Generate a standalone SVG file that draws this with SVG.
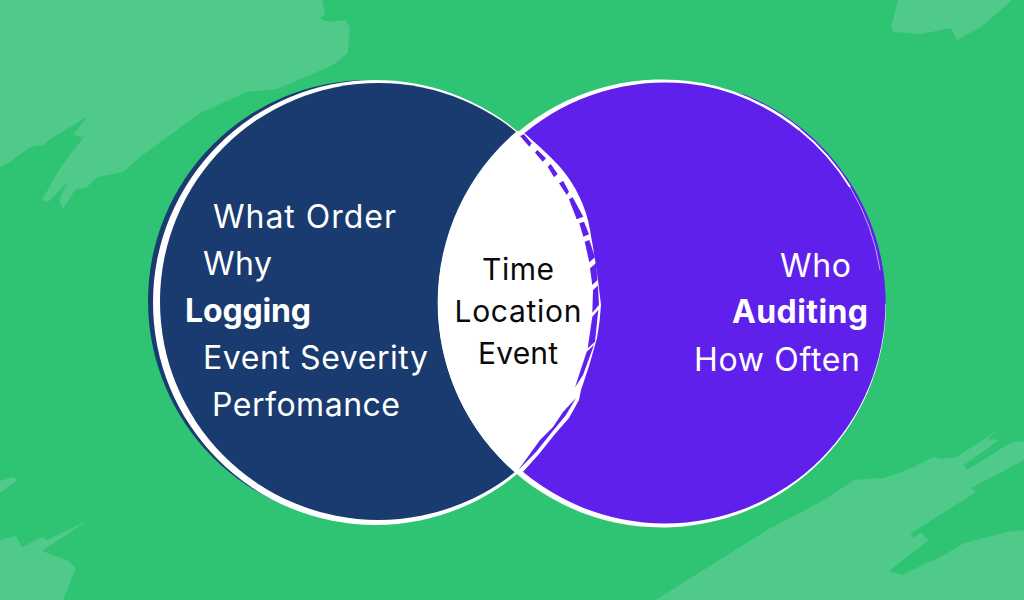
<svg xmlns="http://www.w3.org/2000/svg" width="1024" height="600" viewBox="0 0 1024 600">
<style>
.brush{fill:#50CA8B}
.t{font-family:"Inter","Liberation Sans",sans-serif;font-size:32px;fill:#fff}
.b{font-weight:700}
.k{font-family:"Inter","Liberation Sans",sans-serif;font-size:30px;fill:#0a0a0a;text-anchor:middle}
.ring{fill:none;stroke:#fff}
.pu{fill:#5F20EC}
.nv{fill:#193B6F}
</style>
<rect width="1024" height="600" fill="#2FC374"/>
<g id="background-brushes">
<path class="brush" d="M0 0H322L325 15 320 18 328 22 345 20 350 27 348 53 333 65 277 89 247 92 200 113 140 157 123 172 97 177 87 187 75 190 63 209 59 200 68 182 48 202 42 200 62 165 84 137 73 135 87 117 52 138 43 145 30 147 10 162 0 167Z"/>
<path class="brush" d="M898 0L891 27 894 32 921 34 951 28 957 40 981 27 1012 0Z"/>
<path class="brush" d="M656 600L767 530 824 500 854 480 884 478 907 470 934 457 941 459 957 457 987 437 1001 427 987 439 999 440 964 465 967 470 1007 445 1017 441 1024 442V460L971 488 976 492 911 533 912 538 921 533 929 540 889 571 902 575 927 563 944 555 964 543 1007 532 1024 530V600Z"/>
<path class="brush" d="M0 540L16 536 22 547 43 537 47 540 87 521 42 551 67 560 76 568 63 600H0Z"/>
<path class="brush" d="M0 481L13 477 18 480 0 493Z"/>
</g>
<g id="logging">
<circle class="nv" cx="369" cy="301" r="221"/>
<circle cx="375.500" cy="302.500" r="222.500" fill="#fff"/>
<circle class="nv" cx="378.500" cy="301.500" r="218.500"/>
</g>
<g id="auditing">
<path fill="#fff" d="M886 303.500A224 224 0 1 1 700 82.700Z"/>
<circle class="pu" cx="665" cy="303" r="220.500"/>
<path class="pu" d="M885.500 304A226.500 226.500 0 0 0 745 94.700L700 85.300Z"/>
<path class="ring" stroke-width="2.500" d="M700 83.800A224 224 0 0 1 800 130"/>
<path class="ring" stroke-width="1.800" d="M800 130A224 224 0 0 1 850 187"/>
<path class="ring" stroke-width="1" stroke-opacity=".6" d="M850 187A224 224 0 0 1 880 270"/>
</g>
<g id="overlap">
<path fill="#fff" d="M517 131L522 131 532 140Q548 154 560 167 572 181 579 196 587 212 590 230 595 258 598 280L601 305Q600 322 597 338 590 365 581 390L579 400 569 418 555 434 539 454 522 473 517 474A225 225 0 0 1 517 131Z"/>
<path class="pu" d="M520 136L524 134.300 531.700 143.300 529.300 146.700Z"/>
<path class="pu" d="M535 152.700L537.300 150 546 158.300 542.700 161.700Z"/>
<path class="pu" d="M547.700 166.700L550.700 164 557.700 174 554 177.300Z"/>
<path class="pu" d="M559 183.300L563.300 181 569 191.700 566.700 195Z"/>
<path class="pu" d="M569 199.300L572.700 197.300 583.300 216.700 576.700 219.300Z"/>
<path class="pu" d="M579.300 223.300L584 221.700 589 234.300 583.300 236.700Z"/>
<path class="pu" d="M584.700 241.700L589.300 240 595 257.300 589.300 262.300Z"/>
<path class="pu" d="M590 268.300L596 263.300 597.500 280 592.300 285Z"/>
<path class="pu" d="M593 290L598 285.500 599 305 592.300 312.700Z"/>
<path class="pu" d="M592.300 316.700L598.300 310 595 341.700 587.700 348.300Z"/>
<path class="pu" d="M586.700 351.700L594 345 583 375 575 387.300Z"/>
<path class="pu" d="M576 398L566 415 552 432 536 452 518.300 470 540 440 553 427 563 412Z"/>
</g>
<g id="connectors"/>
<g id="labels">
<text class="t" x="213" y="228" textLength="183">What Order</text>
<text class="t" x="203" y="275" textLength="69">Why</text>
<text class="t b" x="185" y="322" textLength="126">Logging</text>
<text class="t" x="203" y="369" textLength="225">Event Severity</text>
<text class="t" x="212" y="416" textLength="188">Perfomance</text>
<text class="t" x="780" y="277" textLength="71">Who</text>
<text class="t b" x="732" y="323" textLength="136">Auditing</text>
<text class="t" x="694" y="371" textLength="166">How Often</text>
<text class="k" x="518" y="280" textLength="72">Time</text>
<text class="k" x="518" y="322" textLength="127">Location</text>
<text class="k" x="518" y="364" textLength="80">Event</text>
</g>
</svg>
